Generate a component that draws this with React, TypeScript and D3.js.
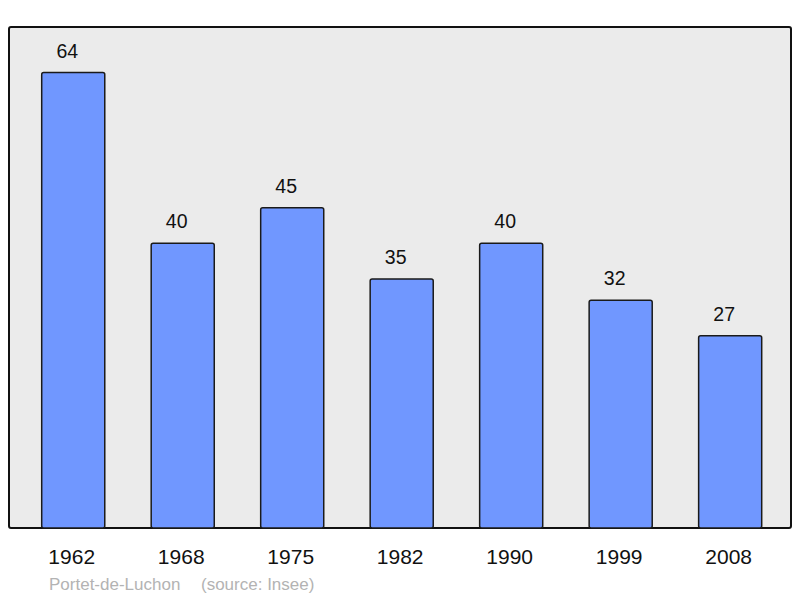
import React from "react";
import * as d3 from "d3";

const years = ["1962", "1968", "1975", "1982", "1990", "1999", "2008"];
const population = [64, 40, 45, 35, 40, 32, 27];
const footerName = "Portet-de-Luchon";
const footerSource = "(source: Insee)";

export default function App() {
  const W = 800, H = 598;
  const frame = { left: 9, top: 27, right: 791, bottom: 528 };
  const x = d3.scaleBand<string>().domain(years).range([41.7, 761.7]).paddingInner(0.424).paddingOuter(0);
  const y = d3.scaleLinear().domain([0, 70.4]).range([frame.bottom, frame.top]);
  const font = "'Liberation Sans', Arial, sans-serif";
  return (
    <svg width={W} height={H} style={{ position: "absolute", left: 0, top: 0 }}>
      <rect x={frame.left} y={frame.top} width={frame.right - frame.left} height={frame.bottom - frame.top}
        rx={2} fill="#ebebeb" stroke="#111" strokeWidth={2} />
      {years.map((yr, i) => {
        const v = population[i];
        const bx = x(yr)!;
        const bw = x.bandwidth();
        return (
          <g key={yr}>
            <rect x={bx} y={y(v)} width={bw} height={frame.bottom - y(v)} rx={2}
              fill="#7097ff" stroke="#1a1a1a" strokeWidth={1.5} />
            <text x={bx + bw / 2 - 6} y={y(v) - 15} textAnchor="middle" fontFamily={font} fontSize={19.5} fill="#111">{v}</text>
            <text x={bx + bw / 2 - 1.5} y={564} textAnchor="middle" fontFamily={font} fontSize={21} fill="#111">{yr}</text>
          </g>
        );
      })}
      <text x={49} y={590} fontFamily={font} fontSize={17} fill="#b3b3b3">{footerName}</text>
      <text x={201} y={590} fontFamily={font} fontSize={17} fill="#b3b3b3">{footerSource}</text>
    </svg>
  );
}
